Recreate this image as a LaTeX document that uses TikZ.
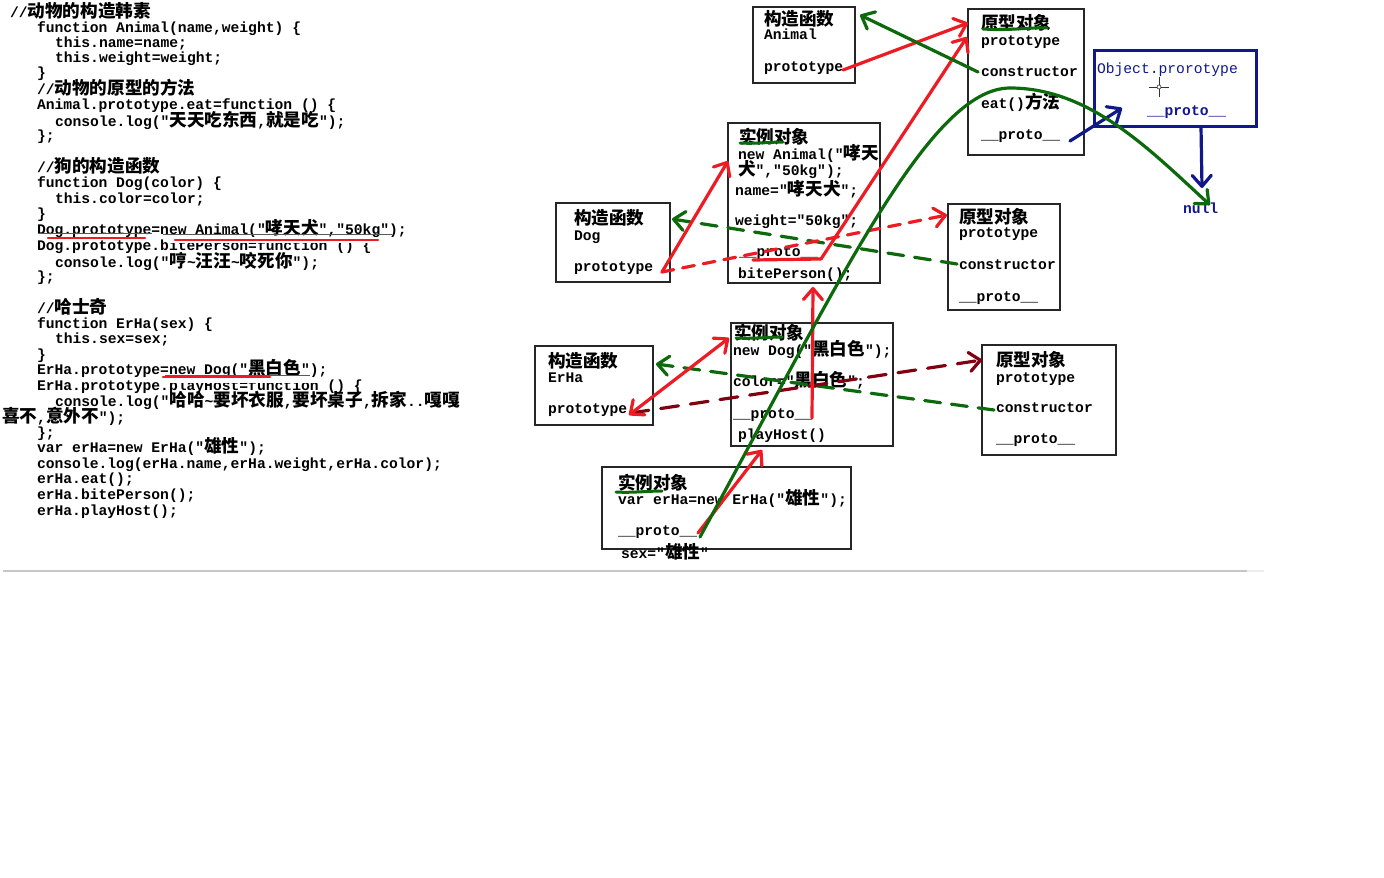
\documentclass[tikz,border=0pt]{standalone}
\usepackage{fontspec}
\setmonofont{Liberation Mono}
\newfontfamily\cjk{Noto Sans CJK SC}[Scale=1.2]
\usetikzlibrary{arrows.meta,calc}
\newcommand\zh[1]{{\cjk #1}}
\newcommand\tildech{\char"7E\relax}
\definecolor{pred}{RGB}{237,28,36}
\definecolor{pgreen}{RGB}{12,105,12}
\definecolor{pmaroon}{RGB}{128,0,16}
\definecolor{pblue}{RGB}{16,24,140}
\frenchspacing
\begin{document}
\begin{tikzpicture}[x=1pt,y=-1pt,
  txt/.style={anchor=base west,inner sep=0pt,outer sep=0pt,font=\ttfamily\fontsize{14.67}{16}\selectfont\bfseries},
  box/.style={draw=black!85,line width=1.3pt,inner sep=0pt},
  bluebox/.style={draw=pblue,line width=3pt,inner sep=0pt},
  stroke/.style={line width=3.2pt,line cap=round,line join=round},
  tipv/.style={-{Straight Barb[length=11pt,width=19pt,round]}},
  tipvv/.style={{Straight Barb[length=11pt,width=19pt,round]}-{Straight Barb[length=11pt,width=19pt,round]}},
  rline/.style={stroke,draw=pred},
  gline/.style={stroke,draw=pgreen},
  mline/.style={stroke,draw=pmaroon},
  bline/.style={stroke,draw=pblue},
  rdash/.style={dash pattern=on 12pt off 9pt},
  gdash/.style={dash pattern=on 16pt off 11pt},
  mdash/.style={dash pattern=on 18pt off 12pt},
  thinline/.style={draw=black!65,line width=0.8pt},
  cut/.style={fill=white,draw=none}
]
\fill[white] (0,0) rectangle (1384,878);
\useasboundingbox (0,0) rectangle (1384,878);

% ---------------- code ----------------
\node[txt] (c1) at (10,17) {//\zh{动物的构造韩素}};
\node[txt] (c2) at (37,32) {function Animal(name,weight) \{};
\node[txt] (c3) at (55,47) {this.name=name;};
\node[txt] (c4) at (55,62) {this.weight=weight;};
\node[txt] (c5) at (37,77) {\}};
\node[txt] (c6) at (37,94) {//\zh{动物的原型的方法}};
\node[txt] (c7) at (37,109) {Animal.prototype.eat=function () \{};
\node[txt] (c8) at (55,126) {console.log("\zh{天天吃东西},\zh{就是吃}");};
\node[txt] (c9) at (37,140) {\};};
\node[txt] (c10) at (37,172) {//\zh{狗的构造函数}};
\node[txt] (c11) at (37,187) {function Dog(color) \{};
\node[txt] (c12) at (55,203) {this.color=color;};
\node[txt] (c13) at (37,218) {\}};
\node[txt] (c14) at (37,234) {Dog.prototype=new Animal("\zh{哮天犬}","50kg");};
\node[txt] (c15) at (37,250) {Dog.prototype.bitePerson=function () \{};
\node[txt] (c16) at (55,267) {console.log("\zh{哼}\tildech\zh{汪汪}\tildech\zh{咬死你}");};
\node[txt] (c17) at (37,281) {\};};
\node[txt] (c18) at (37,313) {//\zh{哈士奇}};
\node[txt] (c19) at (37,328) {function ErHa(sex) \{};
\node[txt] (c20) at (55,343) {this.sex=sex;};
\node[txt] (c21) at (37,359) {\}};
\node[txt] (c22) at (37,374) {ErHa.prototype=new Dog("\zh{黑白色}");};
\node[txt] (c23) at (37,390) {ErHa.prototype.playHost=function () \{};
\node[txt] (c24) at (55,406) {console.log("\zh{哈哈}\tildech\zh{要坏衣服},\zh{要坏桌子},\zh{拆家}..\zh{嘎嘎}};
\node[txt] (c25) at (2,422) {\zh{喜不},\zh{意外不}");};
\node[txt] (c26) at (37,437) {\};};
\node[txt] (c27) at (37,452) {var erHa=new ErHa("\zh{雄性}");};
\node[txt] (c28) at (37,468) {console.log(erHa.name,erHa.weight,erHa.color);};
\node[txt] (c29) at (37,483) {erHa.eat();};
\node[txt] (c30) at (37,499) {erHa.bitePerson();};
\node[txt] (c31) at (37,515) {erHa.playHost();};

% cut tops of two lines
\fill[cut] (168,237) rectangle (380,242.5);
\fill[cut] (169,377.5) rectangle (322,382.5);
% code underlines
\draw[thinline] (38,233) -- (152,233);
\draw[thinline] (163,234) -- (392,234);
\draw[thinline] (165,375) -- (310,375);
\draw[rline,line width=2.6pt] (48,238) -- (145,238);
\draw[rline,line width=2.6pt] (175,240) -- (378,240);
\draw[rline,line width=2.6pt] (163,377) -- (270,377);

% separator
\draw[gray!45,line width=1.6pt] (3,571) -- (1247,571);
\draw[gray!15,line width=1.6pt] (1247,571) -- (1264,571);

% ---------------- boxes ----------------
\node[box,minimum width=102pt,minimum height=76pt] (bA) at (804,45) {};
\node[box,minimum width=116pt,minimum height=146pt] (bB) at (1026,82) {};
\node[bluebox,minimum width=162pt,minimum height=76pt] (bC) at (1175,88) {};
\node[box,minimum width=152pt,minimum height=160pt] (bD) at (804,203) {};
\node[box,minimum width=114pt,minimum height=79pt] (bE) at (613,242.5) {};
\node[box,minimum width=112pt,minimum height=106pt] (bF) at (1004,257) {};
\node[box,minimum width=118pt,minimum height=79pt] (bG) at (594,385.5) {};
\node[box,minimum width=162pt,minimum height=123pt] (bH) at (812,384.5) {};
\node[box,minimum width=249pt,minimum height=82pt] (bI) at (726.5,508) {};
\node[box,minimum width=134pt,minimum height=110pt] (bJ) at (1049,400) {};

% box texts
\node[txt] (A1) at (764,25) {\zh{构造函数}};
\node[txt] (A2) at (764,39) {Animal};
\node[txt] (A3) at (764,71.5) {prototype};

\node[txt] (B1) at (981,29) {\zh{原型对象}};
\node[txt] (B2) at (981,45) {prototype};
\node[txt] (B3) at (981,76) {constructor};
\node[txt] (B4) at (981,108) {eat()\zh{方法}};
\node[txt] (B5) at (981,139) {\_\_proto\_\_};

\node[txt,text=pblue,font=\ttfamily\fontsize{14.67}{16}\selectfont] (C1) at (1097,73) {Object.prorotype};
\node[txt,text=pblue] (C2) at (1147,115) {\_\_proto\_\_};
\node[txt,text=pblue] (nul) at (1183,213) {null};

\node[txt] (D1) at (739,143) {\zh{实例对象}};
\node[txt] (D2) at (738,159) {new Animal("\zh{哮天}};
\node[txt] (D3) at (738,175) {\zh{犬}","50kg");};
\node[txt] (D4) at (735,195) {name="\zh{哮天犬}";};
\node[txt] (D5) at (735,225) {weight="50kg";};
\node[txt] (D6) at (739,256) {\_\_proto\_\_};
\node[txt] (D7) at (738,278) {bitePerson();};

\node[txt] (E1) at (574,224) {\zh{构造函数}};
\node[txt] (E2) at (574,240) {Dog};
\node[txt] (E3) at (574,271) {prototype};

\node[txt] (F1) at (959,223) {\zh{原型对象}};
\node[txt] (F2) at (959,237) {prototype};
\node[txt] (F3) at (959,269) {constructor};
\node[txt] (F4) at (959,301) {\_\_proto\_\_};

\node[txt] (G1) at (548,367) {\zh{构造函数}};
\node[txt] (G2) at (548,382) {ErHa};
\node[txt] (G3) at (548,413) {prototype};

\node[txt] (H1) at (734,339) {\zh{实例对象}};
\node[txt] (H2) at (733,355) {new Dog("\zh{黑白色}");};
\node[txt] (H3) at (733,386) {color="\zh{黑白色}";};
\node[txt] (H4) at (733,418) {\_\_proto\_\_};
\node[txt] (H5) at (738,439) {playHost()};

\node[txt] (I1) at (618,489) {\zh{实例对象}};
\node[txt] (I2) at (618,504) {var erHa=new ErHa("\zh{雄性}");};
\node[txt] (I3) at (618,535) {\_\_proto\_\_};
\node[txt] (I4) at (621,558) {sex="\zh{雄性}"};

\node[txt] (J1) at (996,366) {\zh{原型对象}};
\node[txt] (J2) at (996,382) {prototype};
\node[txt] (J3) at (996,412) {constructor};
\node[txt] (J4) at (996,443) {\_\_proto\_\_};

% cursor crosshair in Object.prototype box
\coordinate (cur) at (1159,87);
\draw[black!80,line width=0.8pt] ($(cur)+(-10,0)$) -- ($(cur)+(10,0)$);
\draw[black!80,line width=0.8pt] ($(cur)+(0,-10)$) -- ($(cur)+(0,10)$);
\draw[black!80,line width=0.6pt,fill=white] (cur) circle (2);

% ---------------- connector end points ----------------
\coordinate (r1s) at (843,70);   \coordinate (r1e) at (968,23);
\coordinate (r2u) at (753,260);  \coordinate (r2s) at (821,259); \coordinate (r2e) at (967,37);
\coordinate (r3s) at (662,272);  \coordinate (r3e) at (728,161);
\coordinate (r4e) at (947,215);
\coordinate (r5s) at (812,418);  \coordinate (r5e) at (813,287);
\coordinate (r6s) at (629,415);  \coordinate (r6e) at (729,338);
\coordinate (r7s) at (698,533);  \coordinate (r7e) at (762,450);
\coordinate (m1s) at (631,413);  \coordinate (m1e) at (982,360);
\coordinate (g1s) at (978,72);   \coordinate (g1e) at (860,15);
\coordinate (g2s) at (700,537);  \coordinate (g2m) at (1010,88); \coordinate (g2e) at (1210,205);
\coordinate (g3s) at (957,264);  \coordinate (g3e) at (672,219);
\coordinate (g4s) at (994,410);  \coordinate (g4e) at (656,364);
\coordinate (b1s) at (1070,141); \coordinate (b1e) at (1122,108);
\coordinate (b2s) at (1201,127); \coordinate (b2e) at (1202,188);

% ---------------- connectors ----------------
% dashed ones
\draw[gline,gdash,tipv] (g3s) -- (g3e);
\draw[gline,gdash,tipv] (g4s) -- (g4e);
\draw[rline,rdash,tipv] (r3s) -- (r4e);
\draw[mline,mdash,tipv] (m1s) -- (m1e);
% red solid
\draw[rline,tipv] (r1s) -- (r1e);
\draw[rline] (r2u) -- (r2s);
\draw[rline,tipv] (r2s) -- (r2e);
\draw[rline,tipv] (r3s) -- (r3e);
\draw[rline,tipv] (r5s) -- (r5e);
\draw[rline,tipvv] (r6s) -- (r6e);
\draw[rline,tipv] (r7s) -- (r7e);
% blue
\draw[bline,tipv] (b1s) -- (b1e);
\draw[bline,tipv] (b2s) -- (b2e);
% green solid
\draw[gline,tipv] (g1s) -- (g1e);
\draw[gline,tipv] (g2s) .. controls (840,280) and (930,88) .. (g2m)
                  .. controls (1090,88) and (1150,150) .. (g2e);
% green marker underlines
\draw[gline,line width=3pt] (983,29) .. controls (1010,31) and (1030,27) .. (1047,28);
\draw[gline,line width=3pt] (740,143) .. controls (755,144) and (770,142) .. (783,142);
\draw[gline,line width=3pt] (736,338) .. controls (752,339) and (768,337) .. (782,337);
\draw[gline,line width=3pt] (616,492) .. controls (632,493) and (648,491) .. (662,491);
\end{tikzpicture}
\end{document}
